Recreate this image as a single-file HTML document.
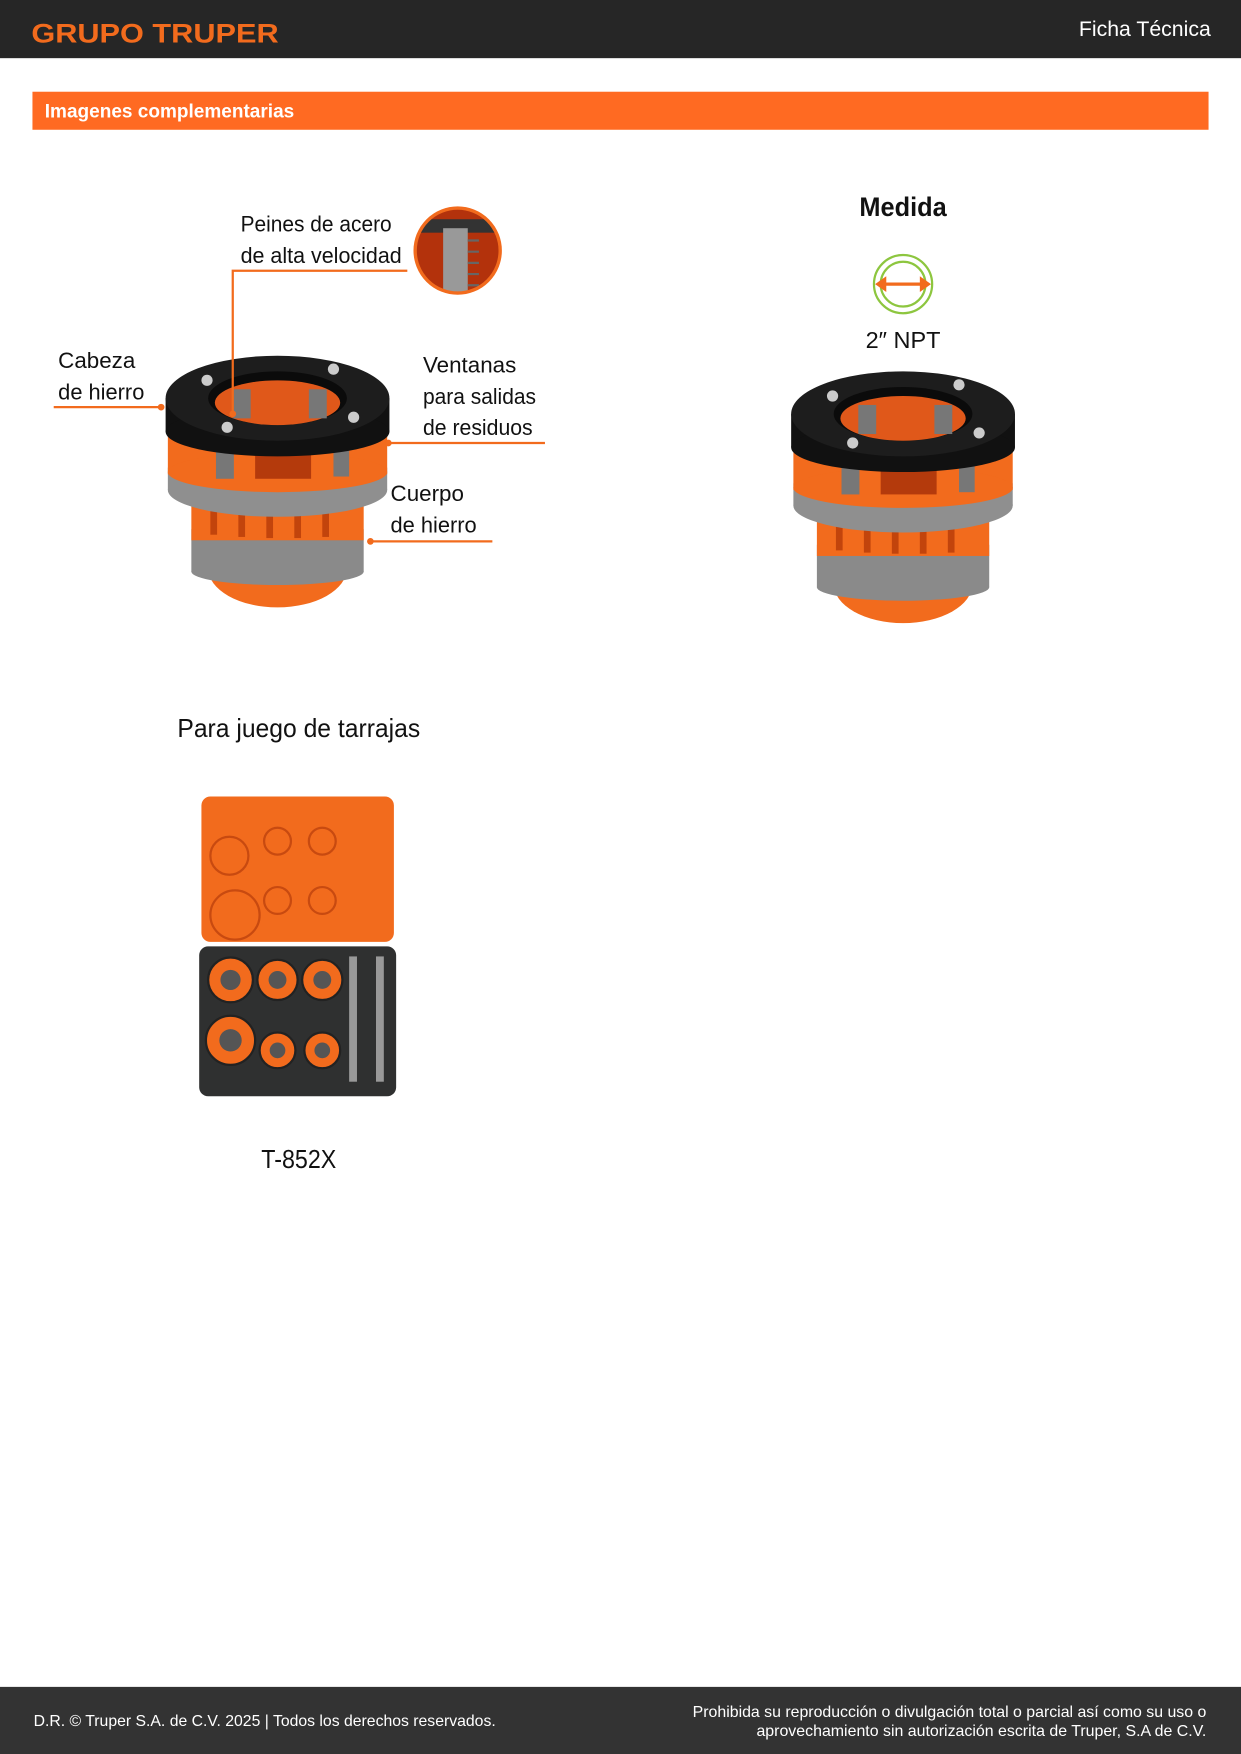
<!DOCTYPE html>
<html><head><meta charset="utf-8"><style>
html,body{margin:0;padding:0;background:#fff}
svg{display:block}
text{font-family:"Liberation Sans","DejaVu Sans",sans-serif}
</style></head><body>
<svg width="1241" height="1754" viewBox="0 0 1109 1568" preserveAspectRatio="none" xmlns="http://www.w3.org/2000/svg">
<defs>
<clipPath id="zc"><circle cx="409" cy="224" r="37"/></clipPath>
<g id="die">
  <ellipse cx="0" cy="190" rx="62" ry="35" fill="#f26b1d"/>
  <rect x="-62" y="150" width="124" height="40" fill="#f26b1d"/>
  <rect x="-77" y="155" width="154" height="38" fill="#8a8a8a"/>
  <ellipse cx="0" cy="193" rx="77" ry="12" fill="#8a8a8a"/>
  <rect x="-77" y="125" width="154" height="40" fill="#f26b1d"/>
  <g fill="#c2440c"><rect x="-60" y="128" width="6" height="32"/><rect x="-35" y="130" width="6" height="32"/><rect x="-10" y="131" width="6" height="32"/><rect x="15" y="131" width="6" height="32"/><rect x="40" y="130" width="6" height="32"/></g>
  <ellipse cx="0" cy="120" rx="98" ry="24" fill="#8f8f8f"/>
  <rect x="-98" y="100" width="196" height="20" fill="#8f8f8f"/>
  <rect x="-98" y="58" width="196" height="48" fill="#f26b1d"/>
  <ellipse cx="0" cy="104" rx="98" ry="18" fill="#f26b1d"/>
  <rect x="-55" y="70" width="16" height="40" fill="#777"/>
  <rect x="50" y="68" width="14" height="40" fill="#777"/>
  <rect x="-20" y="75" width="50" height="35" fill="#b43a0c"/>
  <rect x="-100" y="38" width="200" height="30" fill="#111"/>
  <ellipse cx="0" cy="68" rx="100" ry="22" fill="#111"/>
  <ellipse cx="0" cy="38" rx="100" ry="38" fill="#1d1d1d"/>
  <ellipse cx="0" cy="38" rx="62" ry="24" fill="#0b0b0b"/>
  <ellipse cx="0" cy="42" rx="56" ry="20" fill="#e0581a"/>
  <rect x="-40" y="30" width="16" height="26" fill="#777"/>
  <rect x="28" y="30" width="16" height="26" fill="#777"/>
  <g fill="#ccc"><circle cx="-63" cy="22" r="5"/><circle cx="50" cy="12" r="5"/><circle cx="68" cy="55" r="5"/><circle cx="-45" cy="64" r="5"/></g>
</g>
</defs>

<rect x="0" y="0" width="1109" height="52" fill="#262626"/>
<text x="28" y="38" font-size="24" font-weight="bold" fill="#f26b1d" textLength="221" lengthAdjust="spacingAndGlyphs">GRUPO TRUPER</text>
<text x="1082" y="32" font-size="19" fill="#fff" text-anchor="end">Ficha Técnica</text>

<rect x="29" y="82" width="1051" height="34" fill="#ff6a22"/>
<text x="40" y="105" font-size="17" font-weight="bold" fill="#fff">Imagenes complementarias</text>

<use href="#die" x="248" y="318"/>
<g clip-path="url(#zc)">
<rect x="370" y="185" width="80" height="80" fill="#b3320c"/>
<rect x="370" y="196" width="80" height="12" fill="#333"/>
<rect x="396" y="204" width="22" height="62" fill="#999"/>
<g stroke="#666" stroke-width="2"><line x1="418" y1="215" x2="428" y2="215"/><line x1="418" y1="225" x2="428" y2="225"/><line x1="418" y1="235" x2="428" y2="235"/><line x1="418" y1="245" x2="428" y2="245"/><line x1="418" y1="255" x2="428" y2="255"/></g>
</g>
<circle cx="409" cy="224" r="38" fill="none" stroke="#f26b1d" stroke-width="3"/>

<g stroke="#f26b1d" stroke-width="2" fill="none">
<polyline points="208,370 208,242 364,242"/>
<line x1="48" y1="364" x2="143" y2="364"/>
<line x1="347" y1="396" x2="487" y2="396"/>
<line x1="331" y1="484" x2="440" y2="484"/>
</g>
<g fill="#f26b1d"><circle cx="208" cy="370" r="3"/><circle cx="144" cy="364" r="3"/><circle cx="347" cy="396" r="3"/><circle cx="331" cy="484" r="3"/></g>
<g font-size="20" fill="#111">
<text x="215" y="207" textLength="135" lengthAdjust="spacingAndGlyphs">Peines de acero</text>
<text x="215" y="235" textLength="144" lengthAdjust="spacingAndGlyphs">de alta velocidad</text>
<text x="52" y="329">Cabeza</text>
<text x="52" y="357" textLength="77" lengthAdjust="spacingAndGlyphs">de hierro</text>
<text x="378" y="333">Ventanas</text>
<text x="378" y="361" textLength="101" lengthAdjust="spacingAndGlyphs">para salidas</text>
<text x="378" y="389" textLength="98" lengthAdjust="spacingAndGlyphs">de residuos</text>
<text x="349" y="448">Cuerpo</text>
<text x="349" y="476" textLength="77" lengthAdjust="spacingAndGlyphs">de hierro</text>
</g>

<text x="807" y="193" font-size="24" font-weight="bold" fill="#111" text-anchor="middle" textLength="78" lengthAdjust="spacingAndGlyphs">Medida</text>
<circle cx="807" cy="254" r="26" fill="none" stroke="#8dc63f" stroke-width="2"/>
<circle cx="807" cy="254" r="20" fill="none" stroke="#8dc63f" stroke-width="2"/>
<line x1="790" y1="254" x2="824" y2="254" stroke="#f26b1d" stroke-width="3"/>
<polygon points="782,254 792,247 792,261" fill="#f26b1d"/>
<polygon points="832,254 822,247 822,261" fill="#f26b1d"/>
<text x="807" y="311" font-size="21" fill="#111" text-anchor="middle">2″ NPT</text>
<use href="#die" x="807" y="332"/>

<text x="267" y="659" font-size="23" fill="#111" text-anchor="middle" textLength="217" lengthAdjust="spacingAndGlyphs">Para juego de tarrajas</text>
<rect x="180" y="712" width="172" height="130" rx="8" fill="#f26b1d"/>
<g fill="none" stroke="#c84a10" stroke-width="2">
<circle cx="205" cy="765" r="17"/><circle cx="248" cy="752" r="12"/><circle cx="288" cy="752" r="12"/>
<circle cx="210" cy="818" r="22"/><circle cx="248" cy="805" r="12"/><circle cx="288" cy="805" r="12"/>
</g>
<rect x="178" y="846" width="176" height="134" rx="8" fill="#2f3030"/>
<g fill="#f26b1d" stroke="#222" stroke-width="2">
<circle cx="206" cy="876" r="20"/><circle cx="248" cy="876" r="18"/><circle cx="288" cy="876" r="18"/>
<circle cx="206" cy="930" r="22"/><circle cx="248" cy="939" r="16"/><circle cx="288" cy="939" r="16"/>
</g>
<g fill="#555"><circle cx="206" cy="876" r="9"/><circle cx="248" cy="876" r="8"/><circle cx="288" cy="876" r="8"/><circle cx="206" cy="930" r="10"/><circle cx="248" cy="939" r="7"/><circle cx="288" cy="939" r="7"/></g>
<rect x="312" y="855" width="7" height="112" fill="#999"/>
<rect x="336" y="855" width="7" height="112" fill="#999"/>
<text x="267" y="1044" font-size="23" fill="#111" text-anchor="middle" textLength="67" lengthAdjust="spacingAndGlyphs">T-852X</text>

<rect x="0" y="1508" width="1109" height="60" fill="#333"/>
<text x="30" y="1543" font-size="14" fill="#fff" textLength="413" lengthAdjust="spacingAndGlyphs">D.R. © Truper S.A. de C.V. 2025 | Todos los derechos reservados.</text>
<text x="1078" y="1535" font-size="14" fill="#fff" text-anchor="end" textLength="459" lengthAdjust="spacingAndGlyphs">Prohibida su reproducción o divulgación total o parcial así como su uso o</text>
<text x="1078" y="1552" font-size="14" fill="#fff" text-anchor="end" textLength="402" lengthAdjust="spacingAndGlyphs">aprovechamiento sin autorización escrita de Truper, S.A de C.V.</text>
</svg>
</body></html>
